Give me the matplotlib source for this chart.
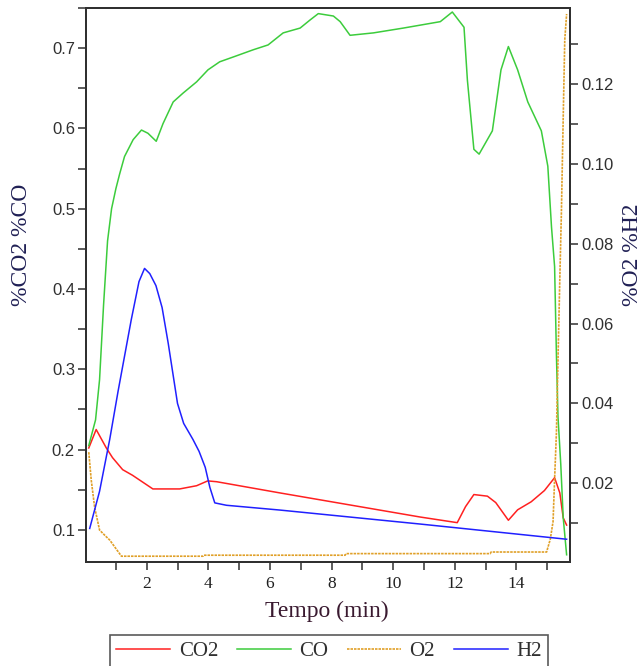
import numpy as np
import matplotlib.pyplot as plt
from matplotlib.ticker import MultipleLocator, FormatStrFormatter

# CO2 (left axis)
t_co2 = [0.12, 0.36, 0.69, 0.89, 1.22, 1.54, 2.2, 3.07, 3.62, 3.98, 4.27, 6.33,
         10.88, 12.08, 12.35, 12.62, 13.06, 13.33, 13.74, 14.04, 14.48, 14.91,
         15.24, 15.41, 15.52, 15.63]
co2 = [0.202, 0.225, 0.202, 0.19, 0.175, 0.168, 0.151, 0.151, 0.155, 0.161, 0.160,
       0.146, 0.116, 0.109, 0.129, 0.144, 0.142, 0.134, 0.112, 0.125, 0.135, 0.149,
       0.165, 0.146, 0.115, 0.106]

# CO (left axis)
t_co = [0.12, 0.34, 0.47, 0.6, 0.73, 0.86, 1.0, 1.12, 1.28, 1.56, 1.83, 2.04, 2.31,
        2.53, 2.86, 3.18, 3.62, 3.99, 4.37, 4.81, 5.46, 5.94, 6.43, 6.98, 7.30, 7.57,
        8.06, 8.28, 8.60, 9.36, 10.33, 11.53, 11.92, 12.30, 12.41, 12.62, 12.79,
        13.22, 13.50, 13.74, 14.04, 14.37, 14.81, 15.02, 15.14, 15.24, 15.30, 15.35,
        15.44, 15.52, 15.63]
co = [0.205, 0.237, 0.287, 0.38, 0.46, 0.50, 0.525, 0.543, 0.565, 0.586, 0.598, 0.594,
      0.584, 0.606, 0.633, 0.644, 0.658, 0.673, 0.683, 0.689, 0.698, 0.704, 0.719,
      0.725, 0.735, 0.743, 0.740, 0.733, 0.716, 0.719, 0.725, 0.733, 0.745, 0.726,
      0.660, 0.574, 0.568, 0.597, 0.673, 0.702, 0.673, 0.633, 0.597, 0.553, 0.477,
      0.428, 0.317, 0.241, 0.182, 0.115, 0.069]

# O2 (right axis)
t_o2 = [0.12, 0.2, 0.31, 0.47, 0.69, 0.8, 1.18, 3.83, 3.86, 8.44, 8.47, 13.15, 13.18,
        14.98, 15.1, 15.19, 15.24, 15.30, 15.35, 15.41, 15.46, 15.52, 15.57, 15.63]
o2 = [0.0278, 0.0208, 0.014, 0.0083, 0.0066, 0.0058, 0.00175, 0.00175, 0.002, 0.002,
      0.0024, 0.0024, 0.0028, 0.0028, 0.006, 0.0104, 0.021, 0.0328, 0.0508, 0.0714,
      0.0875, 0.1117, 0.131, 0.1375]

# H2 (right axis)
t_h2 = [0.15, 0.47, 0.80, 1.07, 1.5, 1.75, 1.93, 2.1, 2.3, 2.5, 2.7, 2.86, 3.0, 3.2,
        3.5, 3.7, 3.9, 4.05, 4.21, 4.59, 6.33, 10.88, 15.63]
h2 = [0.0087, 0.018, 0.031, 0.043, 0.061, 0.0705, 0.0738, 0.0725, 0.0695, 0.064,
      0.055, 0.047, 0.040, 0.035, 0.031, 0.028, 0.024, 0.019, 0.0151, 0.0145, 0.0133,
      0.0098, 0.006]

SERIF = 'Liberation Serif'
SANS = 'Liberation Sans'
AX_COLOR = '#303030'

fig = plt.figure(figsize=(6.44, 6.66), dpi=100)
ax = fig.add_axes([86/644, 104/666, 484/644, 554/666])
ax2 = ax.twinx()

l1, = ax.plot(t_co2, co2, color='#ff2020', lw=1.1, label='CO2')
l2, = ax.plot(t_co, co, color='#3ccc3c', lw=1.1, label='CO')
l3, = ax2.plot(t_o2, o2, color='#e0a028', lw=1.2, ls=(0, (1.5, 0.6)), label='O2')
l4, = ax2.plot(t_h2, h2, color='#2020ff', lw=1.1, label='H2')

ax.set_xlim(0.03, 15.74)
ax.set_ylim(0.060, 0.750)
ax2.set_ylim(0.0003, 0.139)

ax.xaxis.set_major_locator(MultipleLocator(2))
ax.xaxis.set_minor_locator(MultipleLocator(1))
ax.yaxis.set_major_locator(MultipleLocator(0.1))
ax.yaxis.set_minor_locator(MultipleLocator(0.05))
ax.yaxis.set_major_formatter(FormatStrFormatter('%.1f'))
ax2.yaxis.set_major_locator(MultipleLocator(0.02))
ax2.yaxis.set_minor_locator(MultipleLocator(0.01))
ax2.yaxis.set_major_formatter(FormatStrFormatter('%.2f'))

for a in (ax, ax2):
    for s in a.spines.values():
        s.set_color(AX_COLOR)
        s.set_linewidth(1.4)
    a.tick_params(which='both', direction='out', length=6, width=1.1, color=AX_COLOR)

ax.tick_params(axis='y', labelsize=12, labelcolor=AX_COLOR, pad=2)
ax2.tick_params(axis='y', labelsize=12, labelcolor=AX_COLOR, pad=2)
ax.tick_params(axis='x', labelsize=12.5, labelcolor='#202020', pad=4)
for lab in ax.get_yticklabels() + ax2.get_yticklabels():
    lab.set_family(SANS)
for lab in ax.get_xticklabels():
    lab.set_family(SERIF)

fig.text(22/644, 1 - 245/666, '%CO2 %CO', rotation=90, ha='center', va='center',
         fontsize=17, family=SERIF, color='#202055')
fig.text(632/644, 1 - 255/666, '%O2 %H2', rotation=90, ha='center', va='center',
         fontsize=17, family=SERIF, color='#202055')
fig.text(327/644, 1 - 611/666, 'Tempo (min)', ha='center', va='center',
         fontsize=17, family=SERIF, color='#3a1a30')

leg = fig.legend(handles=[l1, l2, l3, l4], loc='upper center', ncol=4,
                 bbox_to_anchor=(329/644, 1 - 635/666), frameon=True, fancybox=False,
                 prop={'family': SERIF, 'size': 15}, handlelength=2.6,
                 handletextpad=0.4, columnspacing=0.9, borderpad=0.3,
                 borderaxespad=0)
leg.get_frame().set_edgecolor(AX_COLOR)
leg.get_frame().set_linewidth(1.2)
for txt in leg.get_texts():
    txt.set_color('#303030')

fig.savefig('out.png', dpi=100)
